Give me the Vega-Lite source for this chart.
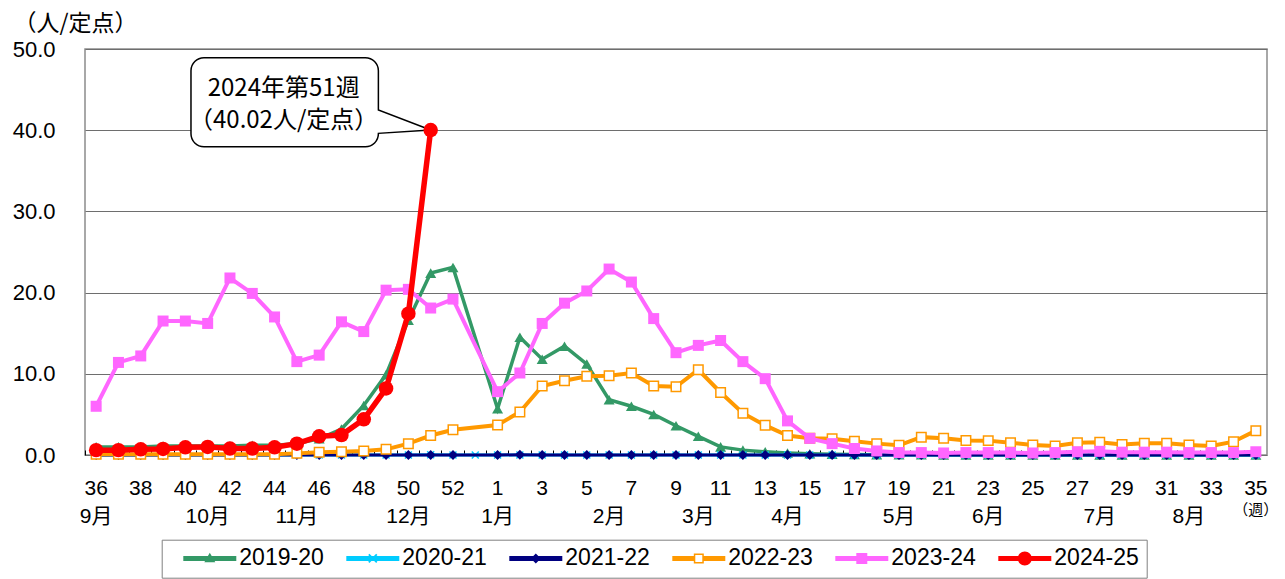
{
  "$schema": "https://vega.github.io/schema/vega-lite/v6.json",
  "width": 1182,
  "height": 406,
  "autosize": {"type": "none"},
  "padding": {"left": 85, "top": 49, "right": 18, "bottom": 124},
  "background": "#ffffff",
  "config": {
    "view": {"stroke": "#8c8c8c", "strokeWidth": 1.5},
    "axis": {"labelColor": "#000000", "titleColor": "#000000"}
  },
  "data": {"values": [
    {"season":"2019-20","week":36,"value":1.0},{"season":"2019-20","week":37,"value":1.0},{"season":"2019-20","week":38,"value":1.0},{"season":"2019-20","week":39,"value":1.1},{"season":"2019-20","week":40,"value":1.1},{"season":"2019-20","week":41,"value":1.1},{"season":"2019-20","week":42,"value":1.1},{"season":"2019-20","week":43,"value":1.2},{"season":"2019-20","week":44,"value":1.2},{"season":"2019-20","week":45,"value":1.4},{"season":"2019-20","week":46,"value":2.0},{"season":"2019-20","week":47,"value":3.2},{"season":"2019-20","week":48,"value":6.1},{"season":"2019-20","week":49,"value":9.9},{"season":"2019-20","week":50,"value":16.6},{"season":"2019-20","week":51,"value":22.4},{"season":"2019-20","week":52,"value":23.1},{"season":"2019-20","week":1,"value":5.7},{"season":"2019-20","week":2,"value":14.5},{"season":"2019-20","week":3,"value":11.8},{"season":"2019-20","week":4,"value":13.4},{"season":"2019-20","week":5,"value":11.2},{"season":"2019-20","week":6,"value":6.8},{"season":"2019-20","week":7,"value":6.0},{"season":"2019-20","week":8,"value":5.0},{"season":"2019-20","week":9,"value":3.6},{"season":"2019-20","week":10,"value":2.3},{"season":"2019-20","week":11,"value":1.0},{"season":"2019-20","week":12,"value":0.6},{"season":"2019-20","week":13,"value":0.4},{"season":"2019-20","week":14,"value":0.25},{"season":"2019-20","week":15,"value":0.15},{"season":"2019-20","week":16,"value":0.1},{"season":"2019-20","week":17,"value":0.05},{"season":"2019-20","week":18,"value":0.03},{"season":"2019-20","week":19,"value":0.02},{"season":"2019-20","week":20,"value":0.02},{"season":"2019-20","week":21,"value":0.01},{"season":"2019-20","week":22,"value":0.01},{"season":"2019-20","week":23,"value":0.01},{"season":"2019-20","week":24,"value":0.0},{"season":"2019-20","week":25,"value":0.01},{"season":"2019-20","week":26,"value":0.0},{"season":"2019-20","week":27,"value":0.0},{"season":"2019-20","week":28,"value":0.01},{"season":"2019-20","week":29,"value":0.0},{"season":"2019-20","week":30,"value":0.0},{"season":"2019-20","week":31,"value":0.0},{"season":"2019-20","week":32,"value":0.01},{"season":"2019-20","week":33,"value":0.0},{"season":"2019-20","week":34,"value":0.0},{"season":"2019-20","week":35,"value":0.0},
    {"season":"2020-21","week":36,"value":0.01},{"season":"2020-21","week":37,"value":0.0},{"season":"2020-21","week":38,"value":0.01},{"season":"2020-21","week":39,"value":0.0},{"season":"2020-21","week":40,"value":0.01},{"season":"2020-21","week":41,"value":0.0},{"season":"2020-21","week":42,"value":0.01},{"season":"2020-21","week":43,"value":0.0},{"season":"2020-21","week":44,"value":0.01},{"season":"2020-21","week":45,"value":0.01},{"season":"2020-21","week":46,"value":0.0},{"season":"2020-21","week":47,"value":0.01},{"season":"2020-21","week":48,"value":0.0},{"season":"2020-21","week":49,"value":0.01},{"season":"2020-21","week":50,"value":0.01},{"season":"2020-21","week":51,"value":0.02},{"season":"2020-21","week":52,"value":0.01},{"season":"2020-21","week":53,"value":0.01},{"season":"2020-21","week":1,"value":0.01},{"season":"2020-21","week":2,"value":0.01},{"season":"2020-21","week":3,"value":0.0},{"season":"2020-21","week":4,"value":0.01},{"season":"2020-21","week":5,"value":0.0},{"season":"2020-21","week":6,"value":0.0},{"season":"2020-21","week":7,"value":0.01},{"season":"2020-21","week":8,"value":0.0},{"season":"2020-21","week":9,"value":0.0},{"season":"2020-21","week":10,"value":0.01},{"season":"2020-21","week":11,"value":0.0},{"season":"2020-21","week":12,"value":0.0},{"season":"2020-21","week":13,"value":0.01},{"season":"2020-21","week":14,"value":0.0},{"season":"2020-21","week":15,"value":0.0},{"season":"2020-21","week":16,"value":0.0},{"season":"2020-21","week":17,"value":0.01},{"season":"2020-21","week":18,"value":0.0},{"season":"2020-21","week":19,"value":0.0},{"season":"2020-21","week":20,"value":0.0},{"season":"2020-21","week":21,"value":0.0},{"season":"2020-21","week":22,"value":0.01},{"season":"2020-21","week":23,"value":0.0},{"season":"2020-21","week":24,"value":0.0},{"season":"2020-21","week":25,"value":0.0},{"season":"2020-21","week":26,"value":0.0},{"season":"2020-21","week":27,"value":0.0},{"season":"2020-21","week":28,"value":0.0},{"season":"2020-21","week":29,"value":0.0},{"season":"2020-21","week":30,"value":0.0},{"season":"2020-21","week":31,"value":0.0},{"season":"2020-21","week":32,"value":0.0},{"season":"2020-21","week":33,"value":0.0},{"season":"2020-21","week":34,"value":0.0},{"season":"2020-21","week":35,"value":0.0},
    {"season":"2021-22","week":36,"value":0.0},{"season":"2021-22","week":37,"value":0.0},{"season":"2021-22","week":38,"value":0.0},{"season":"2021-22","week":39,"value":0.0},{"season":"2021-22","week":40,"value":0.0},{"season":"2021-22","week":41,"value":0.0},{"season":"2021-22","week":42,"value":0.0},{"season":"2021-22","week":43,"value":0.0},{"season":"2021-22","week":44,"value":0.0},{"season":"2021-22","week":45,"value":0.01},{"season":"2021-22","week":46,"value":0.0},{"season":"2021-22","week":47,"value":0.0},{"season":"2021-22","week":48,"value":0.01},{"season":"2021-22","week":49,"value":0.01},{"season":"2021-22","week":50,"value":0.0},{"season":"2021-22","week":51,"value":0.01},{"season":"2021-22","week":52,"value":0.01},{"season":"2021-22","week":1,"value":0.01},{"season":"2021-22","week":2,"value":0.02},{"season":"2021-22","week":3,"value":0.01},{"season":"2021-22","week":4,"value":0.01},{"season":"2021-22","week":5,"value":0.0},{"season":"2021-22","week":6,"value":0.01},{"season":"2021-22","week":7,"value":0.0},{"season":"2021-22","week":8,"value":0.0},{"season":"2021-22","week":9,"value":0.01},{"season":"2021-22","week":10,"value":0.0},{"season":"2021-22","week":11,"value":0.01},{"season":"2021-22","week":12,"value":0.0},{"season":"2021-22","week":13,"value":0.01},{"season":"2021-22","week":14,"value":0.0},{"season":"2021-22","week":15,"value":0.01},{"season":"2021-22","week":16,"value":0.0},{"season":"2021-22","week":17,"value":0.0},{"season":"2021-22","week":18,"value":0.0},{"season":"2021-22","week":19,"value":0.0},{"season":"2021-22","week":20,"value":0.0},{"season":"2021-22","week":21,"value":0.0},{"season":"2021-22","week":22,"value":0.0},{"season":"2021-22","week":23,"value":0.0},{"season":"2021-22","week":24,"value":0.0},{"season":"2021-22","week":25,"value":0.0},{"season":"2021-22","week":26,"value":0.0},{"season":"2021-22","week":27,"value":0.0},{"season":"2021-22","week":28,"value":0.01},{"season":"2021-22","week":29,"value":0.01},{"season":"2021-22","week":30,"value":0.0},{"season":"2021-22","week":31,"value":0.01},{"season":"2021-22","week":32,"value":0.0},{"season":"2021-22","week":33,"value":0.0},{"season":"2021-22","week":34,"value":0.0},{"season":"2021-22","week":35,"value":0.0},
    {"season":"2022-23","week":36,"value":0.1},{"season":"2022-23","week":37,"value":0.1},{"season":"2022-23","week":38,"value":0.1},{"season":"2022-23","week":39,"value":0.1},{"season":"2022-23","week":40,"value":0.1},{"season":"2022-23","week":41,"value":0.1},{"season":"2022-23","week":42,"value":0.1},{"season":"2022-23","week":43,"value":0.1},{"season":"2022-23","week":44,"value":0.1},{"season":"2022-23","week":45,"value":0.2},{"season":"2022-23","week":46,"value":0.35},{"season":"2022-23","week":47,"value":0.4},{"season":"2022-23","week":48,"value":0.5},{"season":"2022-23","week":49,"value":0.7},{"season":"2022-23","week":50,"value":1.4},{"season":"2022-23","week":51,"value":2.4},{"season":"2022-23","week":52,"value":3.1},{"season":"2022-23","week":1,"value":3.7},{"season":"2022-23","week":2,"value":5.3},{"season":"2022-23","week":3,"value":8.5},{"season":"2022-23","week":4,"value":9.15},{"season":"2022-23","week":5,"value":9.7},{"season":"2022-23","week":6,"value":9.75},{"season":"2022-23","week":7,"value":10.1},{"season":"2022-23","week":8,"value":8.5},{"season":"2022-23","week":9,"value":8.4},{"season":"2022-23","week":10,"value":10.5},{"season":"2022-23","week":11,"value":7.7},{"season":"2022-23","week":12,"value":5.15},{"season":"2022-23","week":13,"value":3.65},{"season":"2022-23","week":14,"value":2.4},{"season":"2022-23","week":15,"value":2.05},{"season":"2022-23","week":16,"value":2.0},{"season":"2022-23","week":17,"value":1.7},{"season":"2022-23","week":18,"value":1.4},{"season":"2022-23","week":19,"value":1.2},{"season":"2022-23","week":20,"value":2.2},{"season":"2022-23","week":21,"value":2.05},{"season":"2022-23","week":22,"value":1.8},{"season":"2022-23","week":23,"value":1.77},{"season":"2022-23","week":24,"value":1.52},{"season":"2022-23","week":25,"value":1.23},{"season":"2022-23","week":26,"value":1.1},{"season":"2022-23","week":27,"value":1.5},{"season":"2022-23","week":28,"value":1.56},{"season":"2022-23","week":29,"value":1.3},{"season":"2022-23","week":30,"value":1.44},{"season":"2022-23","week":31,"value":1.44},{"season":"2022-23","week":32,"value":1.23},{"season":"2022-23","week":33,"value":1.1},{"season":"2022-23","week":34,"value":1.64},{"season":"2022-23","week":35,"value":3.0},
    {"season":"2023-24","week":36,"value":6.0},{"season":"2023-24","week":37,"value":11.4},{"season":"2023-24","week":38,"value":12.2},{"season":"2023-24","week":39,"value":16.5},{"season":"2023-24","week":40,"value":16.5},{"season":"2023-24","week":41,"value":16.2},{"season":"2023-24","week":42,"value":21.8},{"season":"2023-24","week":43,"value":19.9},{"season":"2023-24","week":44,"value":17.0},{"season":"2023-24","week":45,"value":11.5},{"season":"2023-24","week":46,"value":12.3},{"season":"2023-24","week":47,"value":16.4},{"season":"2023-24","week":48,"value":15.2},{"season":"2023-24","week":49,"value":20.3},{"season":"2023-24","week":50,"value":20.4},{"season":"2023-24","week":51,"value":18.1},{"season":"2023-24","week":52,"value":19.2},{"season":"2023-24","week":1,"value":7.8},{"season":"2023-24","week":2,"value":10.1},{"season":"2023-24","week":3,"value":16.2},{"season":"2023-24","week":4,"value":18.7},{"season":"2023-24","week":5,"value":20.2},{"season":"2023-24","week":6,"value":22.9},{"season":"2023-24","week":7,"value":21.3},{"season":"2023-24","week":8,"value":16.8},{"season":"2023-24","week":9,"value":12.6},{"season":"2023-24","week":10,"value":13.5},{"season":"2023-24","week":11,"value":14.1},{"season":"2023-24","week":12,"value":11.5},{"season":"2023-24","week":13,"value":9.4},{"season":"2023-24","week":14,"value":4.2},{"season":"2023-24","week":15,"value":2.05},{"season":"2023-24","week":16,"value":1.4},{"season":"2023-24","week":17,"value":0.8},{"season":"2023-24","week":18,"value":0.5},{"season":"2023-24","week":19,"value":0.3},{"season":"2023-24","week":20,"value":0.3},{"season":"2023-24","week":21,"value":0.25},{"season":"2023-24","week":22,"value":0.3},{"season":"2023-24","week":23,"value":0.3},{"season":"2023-24","week":24,"value":0.3},{"season":"2023-24","week":25,"value":0.25},{"season":"2023-24","week":26,"value":0.3},{"season":"2023-24","week":27,"value":0.4},{"season":"2023-24","week":28,"value":0.45},{"season":"2023-24","week":29,"value":0.35},{"season":"2023-24","week":30,"value":0.35},{"season":"2023-24","week":31,"value":0.35},{"season":"2023-24","week":32,"value":0.3},{"season":"2023-24","week":33,"value":0.3},{"season":"2023-24","week":34,"value":0.3},{"season":"2023-24","week":35,"value":0.4},
    {"season":"2024-25","week":36,"value":0.6},{"season":"2024-25","week":37,"value":0.6},{"season":"2024-25","week":38,"value":0.7},{"season":"2024-25","week":39,"value":0.75},{"season":"2024-25","week":40,"value":0.95},{"season":"2024-25","week":41,"value":1.0},{"season":"2024-25","week":42,"value":0.8},{"season":"2024-25","week":43,"value":0.8},{"season":"2024-25","week":44,"value":0.95},{"season":"2024-25","week":45,"value":1.4},{"season":"2024-25","week":46,"value":2.3},{"season":"2024-25","week":47,"value":2.45},{"season":"2024-25","week":48,"value":4.4},{"season":"2024-25","week":49,"value":8.2},{"season":"2024-25","week":50,"value":17.4},{"season":"2024-25","week":51,"value":40.02}
  ]},
  "encoding": {
    "x": {"field": "week", "type": "ordinal", "bandPosition": 0.5,
      "scale": {"type": "band", "domain": [36,37,38,39,40,41,42,43,44,45,46,47,48,49,50,51,52,53,1,2,3,4,5,6,7,8,9,10,11,12,13,14,15,16,17,18,19,20,21,22,23,24,25,26,27,28,29,30,31,32,33,34,35], "paddingInner": 0, "paddingOuter": 0},
      "axis": null},
    "y": {"field": "value", "type": "quantitative", "scale": {"domain": [0, 50], "nice": false},
      "axis": {"title": "（人/定点）", "titleAngle": 0, "titleX": -10, "titleY": -26, "titleAlign": "center", "titleBaseline": "middle", "titleFont": "Noto Sans CJK JP", "titleFontSize": 23, "titleFontWeight": "normal",
        "values": [0, 10, 20, 30, 40, 50], "format": ".1f", "domain": false, "ticks": false, "grid": true, "gridColor": "#6e6e6e", "gridWidth": 1,
        "labelFont": "Liberation Sans", "labelFontSize": 22, "labelPadding": 30}}
  },
  "resolve": {"axis": {"x": "independent"}},
  "layer": [
    {
      "transform": [{"filter": "datum.season == '2024-25' && datum.week == 51"}],
      "mark": {"type": "point", "shape": "M-226.7,-72.3H-65.3A13,13 0 0 1 -52.3,-59.3V-20L0,0L-52.3,3.3V3.7A13,13 0 0 1 -65.3,16.7H-226.7A13,13 0 0 1 -239.7,3.7V-59.3A13,13 0 0 1 -226.7,-72.3Z", "size": 4, "filled": true, "fill": "#ffffff", "stroke": "#000000", "strokeWidth": 1.5, "opacity": 1}
    },
    {
      "transform": [{"filter": "datum.season == '2024-25' && datum.week == 51"}],
      "mark": {"type": "text", "text": ["2024年第51週", "（40.02人/定点）"], "font": "Noto Sans CJK JP", "fontSize": 24, "lineHeight": 32, "align": "center", "baseline": "middle", "dx": -147, "dy": -41, "color": "#000000"}
    },
    {
      "transform": [{"filter": "datum.season == '2019-20'"}],
      "mark": {"type": "line", "color": "#339966", "strokeWidth": 3.5},
      "encoding": {
        "x": {"field": "week", "type": "ordinal", "bandPosition": 0.5,
          "scale": {"type": "band", "domain": [36,37,38,39,40,41,42,43,44,45,46,47,48,49,50,51,52,53,1,2,3,4,5,6,7,8,9,10,11,12,13,14,15,16,17,18,19,20,21,22,23,24,25,26,27,28,29,30,31,32,33,34,35], "paddingInner": 0, "paddingOuter": 0},
          "axis": {"orient": "bottom", "title": null, "domain": false, "ticks": false, "grid": false, "labelAngle": 0, "labelFont": "Liberation Sans", "labelFontSize": 21, "labelPadding": 22, "labelOverlap": false,
            "labelExpr": "(datum.value >= 36 ? datum.value % 2 == 0 : datum.value % 2 == 1) ? datum.label : ''"}}
      }
    },
    {
      "transform": [{"filter": "datum.season == '2019-20'"}],
      "mark": {"type": "point", "shape": "triangle-up", "size": 121, "filled": true, "color": "#339966", "opacity": 1},
      "encoding": {
        "x": {"field": "week", "type": "ordinal", "bandPosition": 0.5,
          "scale": {"type": "band", "domain": [36,37,38,39,40,41,42,43,44,45,46,47,48,49,50,51,52,53,1,2,3,4,5,6,7,8,9,10,11,12,13,14,15,16,17,18,19,20,21,22,23,24,25,26,27,28,29,30,31,32,33,34,35], "paddingInner": 0, "paddingOuter": 0},
          "axis": {"orient": "bottom", "title": null, "offset": -5, "domain": false, "ticks": true, "tickSize": 5, "tickColor": "#000000", "tickWidth": 1, "bandPosition": 0, "grid": false, "labelAngle": 0, "labelFont": "Liberation Sans, Noto Sans CJK JP", "labelFontSize": 21, "labelPadding": 50, "labelOverlap": false,
            "labelExpr": "datum.value == 50 ? '12月' : datum.value == 6 ? '2月' : datum.value == 19 ? '5月' : datum.value == 28 ? '7月' : ''"}}
      }
    },
    {
      "transform": [{"filter": "datum.season == '2020-21'"}],
      "mark": {"type": "line", "color": "#00ccff", "strokeWidth": 3},
      "encoding": {
        "x": {"field": "week", "type": "ordinal", "bandPosition": 0.5,
          "scale": {"type": "band", "domain": [36,37,38,39,40,41,42,43,44,45,46,47,48,49,50,51,52,53,1,2,3,4,5,6,7,8,9,10,11,12,13,14,15,16,17,18,19,20,21,22,23,24,25,26,27,28,29,30,31,32,33,34,35], "paddingInner": 0, "paddingOuter": 0},
          "axis": {"orient": "bottom", "title": null, "domain": false, "ticks": false, "grid": false, "labelAngle": 0, "labelFont": "Liberation Sans, Noto Sans CJK JP", "labelFontSize": 21, "labelPadding": 50, "labelOverlap": false,
            "labelExpr": "datum.value == 36 ? '9月' : datum.value == 41 ? '10月' : datum.value == 45 ? '11月' : datum.value == 1 ? '1月' : datum.value == 10 ? '3月' : datum.value == 14 ? '4月' : datum.value == 23 ? '6月' : datum.value == 32 ? '8月' : ''"}}
      }
    },
    {
      "transform": [{"filter": "datum.season == '2020-21'"}],
      "mark": {"type": "point", "shape": "M-1,-1L1,1M-1,1L1,-1", "size": 49, "filled": false, "stroke": "#00ccff", "strokeWidth": 1.5, "opacity": 1},
      "encoding": {
        "x": {"field": "week", "type": "ordinal", "bandPosition": 0.5,
          "scale": {"type": "band", "domain": [36,37,38,39,40,41,42,43,44,45,46,47,48,49,50,51,52,53,1,2,3,4,5,6,7,8,9,10,11,12,13,14,15,16,17,18,19,20,21,22,23,24,25,26,27,28,29,30,31,32,33,34,35], "paddingInner": 0, "paddingOuter": 0},
          "axis": {"orient": "bottom", "title": null, "domain": false, "ticks": false, "grid": false, "labelAngle": 0, "labelFont": "Noto Sans CJK JP", "labelFontSize": 15, "labelPadding": 47, "labelOverlap": false,
            "labelExpr": "datum.value == 35 ? '（週）' : ''"}}
      }
    },
    {
      "transform": [{"filter": "datum.season == '2021-22'"}],
      "mark": {"type": "line", "color": "#000080", "strokeWidth": 3}
    },
    {
      "transform": [{"filter": "datum.season == '2021-22'"}],
      "mark": {"type": "point", "shape": "diamond", "size": 100, "filled": true, "color": "#000080", "opacity": 1}
    },
    {
      "transform": [{"filter": "datum.season == '2022-23'"}],
      "mark": {"type": "line", "color": "#ff9900", "strokeWidth": 4}
    },
    {
      "transform": [{"filter": "datum.season == '2022-23'"}],
      "mark": {"type": "point", "shape": "square", "size": 90, "filled": true, "fill": "#ffffff", "stroke": "#ff9900", "strokeWidth": 1.5, "opacity": 1}
    },
    {
      "transform": [{"filter": "datum.season == '2023-24'"}],
      "mark": {"type": "line", "color": "#ff66ff", "strokeWidth": 4}
    },
    {
      "transform": [{"filter": "datum.season == '2023-24'"}],
      "mark": {"type": "point", "shape": "square", "size": 121, "filled": true, "color": "#ff66ff", "opacity": 1}
    },
    {
      "transform": [{"filter": "datum.season == '2024-25'"}],
      "mark": {"type": "line", "color": "#ff0000", "strokeWidth": 5.5}
    },
    {
      "transform": [{"filter": "datum.season == '2024-25'"}],
      "mark": {"type": "point", "shape": "circle", "size": 210, "filled": true, "color": "#ff0000", "opacity": 1}
    },
    {
      "transform": [{"filter": "false"}],
      "mark": {"type": "point", "filled": true, "opacity": 1},
      "encoding": {
        "color": {"field": "season", "type": "nominal",
          "scale": {"domain": ["2019-20","2020-21","2021-22","2022-23","2023-24","2024-25"], "range": ["#339966","#00ccff","#000080","#ff9900","#ff66ff","#ff0000"]},
          "legend": {"orient": "none", "legendX": 76.7, "legendY": 490.7, "direction": "horizontal", "columns": 6, "title": null, "labelFont": "Liberation Sans", "labelFontSize": 23, "labelColor": "#000000", "symbolSize": 529, "symbolStrokeWidth": 0, "symbolOpacity": 1, "labelOffset": 47.6, "columnPadding": 7, "padding": 7, "strokeColor": "#808080"}},
        "shape": {"field": "season", "type": "nominal",
          "scale": {"domain": ["2019-20","2020-21","2021-22","2022-23","2023-24","2024-25"], "range": [
            "M0.27,-0.217H4.878V0.217H0.27Z M2.574,-0.487L3.052,0.335L2.096,0.335Z",
            "M0.27,-0.217H4.878V0.217H0.27Z M2.28,-0.402L2.976,0.294L2.868,0.402L2.172,-0.294Z M2.172,0.294L2.868,-0.402L2.976,-0.294L2.28,0.402Z",
            "M0.27,-0.217H4.878V0.217H0.27Z M2.574,-0.435L3.009,0L2.574,0.435L2.139,0Z",
            "M0.27,-0.217H2.139V0.217H0.27Z M3.009,-0.217H4.878V0.217H3.009Z M2.139,-0.435H3.009V0.435H2.139Z M2.27,-0.304V0.304H2.878V-0.304Z",
            "M0.27,-0.217H4.878V0.217H0.27Z M2.096,-0.478H3.052V0.478H2.096Z",
            "M0.27,-0.217H4.878V0.217H0.27Z M1.965,0A0.609,0.609 0 1 1 3.183,0A0.609,0.609 0 1 1 1.965,0Z"
          ]},
          "legend": {"orient": "none", "legendX": 76.7, "legendY": 490.7, "direction": "horizontal", "columns": 6, "title": null, "labelFont": "Liberation Sans", "labelFontSize": 23, "labelColor": "#000000", "symbolSize": 529, "symbolStrokeWidth": 0, "symbolOpacity": 1, "labelOffset": 47.6, "columnPadding": 7, "padding": 7, "strokeColor": "#808080"}}
      }
    }
  ]
}
